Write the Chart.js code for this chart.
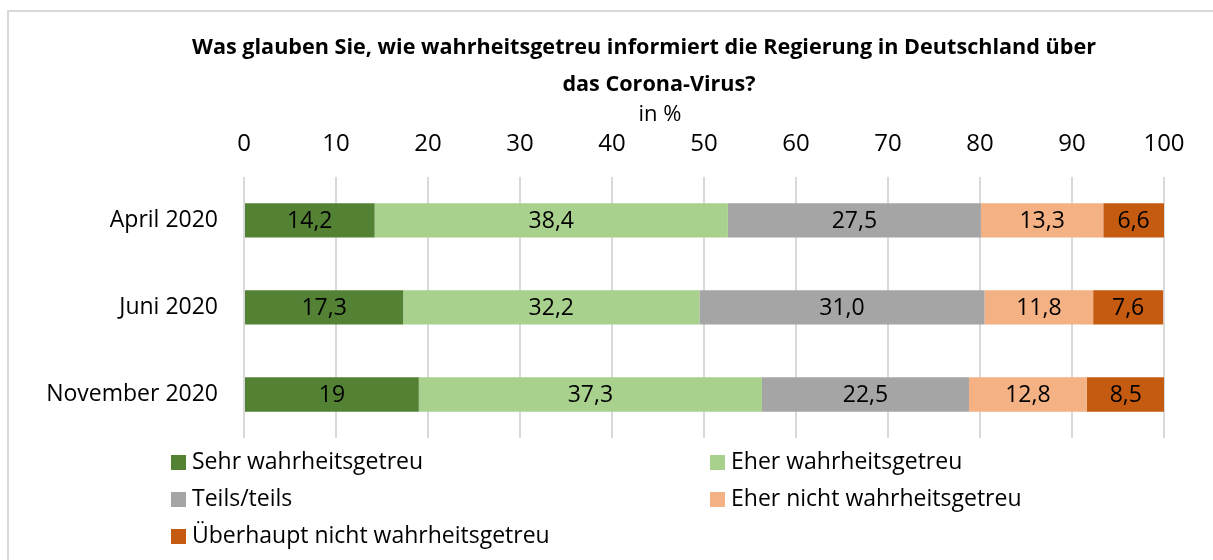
<!DOCTYPE html>
<html>
<head>
<meta charset="utf-8">
<script src="https://cdn.jsdelivr.net/npm/chart.js@4.4.1/dist/chart.umd.min.js"></script>
<style>
    body { margin: 0; background: #fff; }
    .frame {
        position: absolute; left: 7px; top: 10px; width: 1240px; height: 600px;
        border-left: 2px solid #d9d9d9; border-top: 2px solid #d9d9d9;
    }
    .chart-box { position: absolute; left: 0; top: 0; width: 1213px; height: 560px; }
</style>
</head>
<body>
<div class="frame"></div>
<div class="chart-box"><canvas id="chart" width="1213" height="560"></canvas></div>
<script>
// values as printed on the bars (strings keep "31,0" vs "19" as shown)
const categories = ["April 2020", "Juni 2020", "November 2020"];
const sehrWahr = ["14.2", "17.3", "19"];
const eherWahr = ["38.4", "32.2", "37.3"];
const teilsTeils = ["27.5", "31.0", "22.5"];
const eherNicht = ["13.3", "11.8", "12.8"];
const ueberhauptNicht = ["6.6", "7.6", "8.5"];
const seriesNames = [
    "Sehr wahrheitsgetreu",
    "Eher wahrheitsgetreu",
    "Teils/teils",
    "Eher nicht wahrheitsgetreu",
    "Überhaupt nicht wahrheitsgetreu"
];
const xTicks = [0, 10, 20, 30, 40, 50, 60, 70, 80, 90, 100];

const FONT = "'Open Sans', sans-serif";
const colors = ["#548235", "#a9d18e", "#a5a5a5", "#f4b183", "#c55a11"];
const seriesValues = [sehrWahr, eherWahr, teilsTeils, eherNicht, ueberhauptNicht];

// title + "in %" drawn above the axis
const titlePlugin = {
    id: "titleText",
    afterDraw(chart) {
        const ctx = chart.ctx;
        ctx.save();
        ctx.fillStyle = "#000";
        ctx.textAlign = "center";
        ctx.textBaseline = "middle";
        ctx.font = "bold 21.6px " + FONT;
        ctx.fillText("Was glauben Sie, wie wahrheitsgetreu informiert die Regierung in Deutschland über", 644, 48);
        ctx.fillText("das Corona-Virus?", 659, 85);
        ctx.font = "22px " + FONT;
        ctx.fillText("in %", 660, 115);
        ctx.restore();
    }
};

// numbers centred in each segment
const valueLabels = {
    id: "valueLabels",
    afterDatasetsDraw(chart) {
        const ctx = chart.ctx;
        ctx.save();
        ctx.fillStyle = "#000";
        ctx.textAlign = "center";
        ctx.textBaseline = "middle";
        ctx.font = "23px " + FONT;
        chart.data.datasets.forEach((ds, i) => {
            chart.getDatasetMeta(i).data.forEach((bar, j) => {
                const txt = String(ds.data[j]).replace(".", ",");
                ctx.fillText(txt, (bar.x + bar.base) / 2, bar.y + 1);
            });
        });
        ctx.restore();
    }
};

// two column legend under the plot
const gridLegend = {
    id: "gridLegend",
    afterDraw(chart) {
        const ctx = chart.ctx;
        const cols = [171, 710];
        const rows = [462, 499, 536];
        ctx.save();
        ctx.font = "23px " + FONT;
        ctx.textBaseline = "middle";
        ctx.textAlign = "left";
        chart.data.datasets.forEach((ds, i) => {
            const x = cols[i % 2];
            const y = rows[Math.floor(i / 2)];
            ctx.fillStyle = ds.backgroundColor;
            ctx.fillRect(x, y - 7, 15, 15);
            ctx.fillStyle = "#000";
            ctx.fillText(ds.label, x + 21, y);
        });
        ctx.restore();
    }
};

new Chart(document.getElementById("chart"), {
    type: "bar",
    data: {
        labels: categories,
        datasets: seriesNames.map((name, i) => ({
            label: name,
            data: seriesValues[i],
            backgroundColor: colors[i],
            borderWidth: 0,
            categoryPercentage: 1,
            barPercentage: 0.395
        }))
    },
    options: {
        indexAxis: "y",
        responsive: false,
        animation: false,
        layout: { padding: { top: 112, right: 49, bottom: 122, left: 0 } },
        plugins: {
            legend: { display: false },
            title: { display: false },
            tooltip: { enabled: false }
        },
        scales: {
            x: {
                position: "top",
                stacked: true,
                min: 0,
                max: 100,
                afterBuildTicks(scale) {
                    scale.ticks = xTicks.map(v => ({ value: v }));
                },
                ticks: { color: "#000", font: { family: FONT, size: 24 }, padding: 18 },
                grid: { color: "#d9d9d9", lineWidth: 2, drawTicks: false },
                border: { display: false }
            },
            y: {
                stacked: true,
                afterFit(scale) { scale.width = 244; },
                ticks: { color: "#000", font: { family: FONT, size: 23 }, padding: 26 },
                grid: { display: false, drawTicks: false },
                border: { display: false }
            }
        }
    },
    plugins: [titlePlugin, valueLabels, gridLegend]
});
</script>
</body>
</html>
